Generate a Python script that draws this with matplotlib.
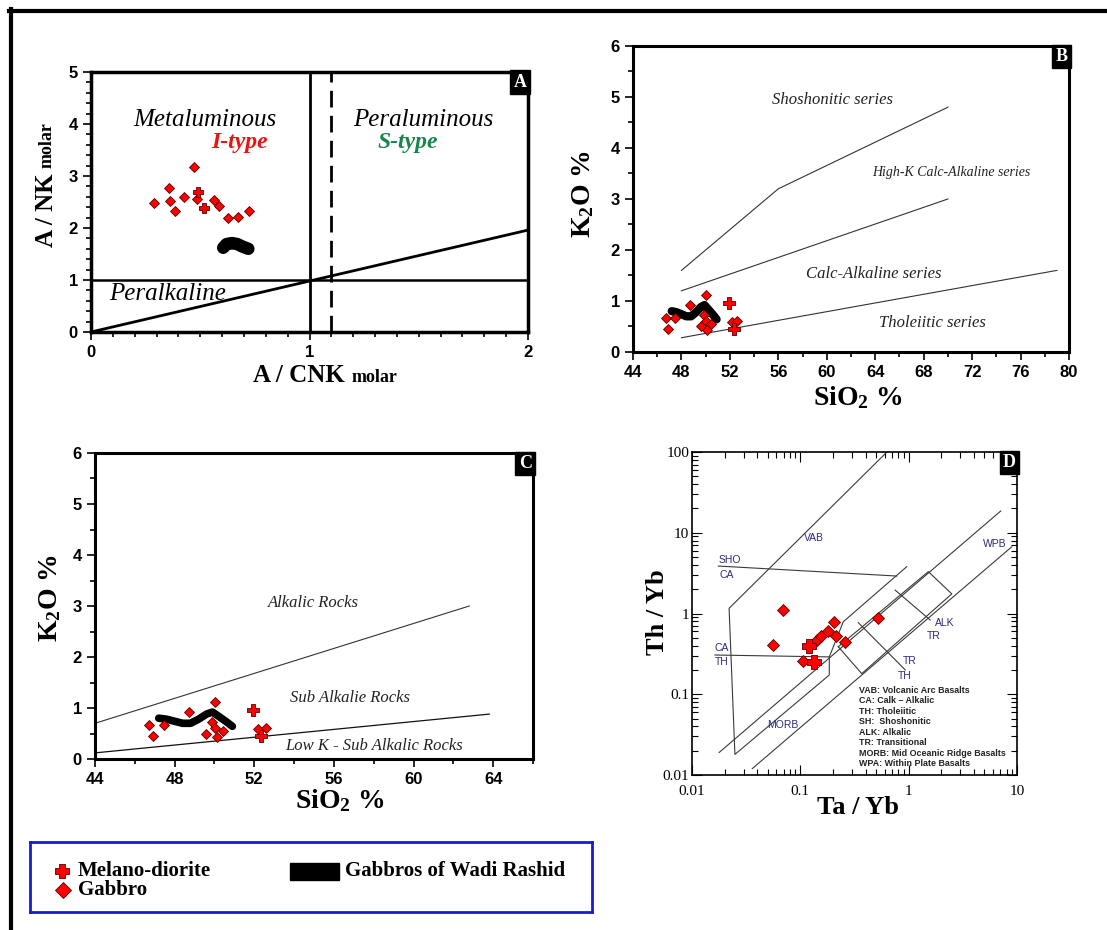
import matplotlib.pyplot as plt
from matplotlib.lines import Line2D
from matplotlib.path import Path
from matplotlib.patches import Rectangle
from matplotlib.ticker import MultipleLocator, LogLocator, FuncFormatter, NullFormatter

plt.rcParams['font.family'] = 'Liberation Sans'
plt.rcParams['mathtext.fontset'] = 'custom'
plt.rcParams['mathtext.rm'] = 'Liberation Serif:bold'
plt.rcParams['mathtext.bf'] = 'Liberation Serif:bold'
plt.rcParams['mathtext.it'] = 'Liberation Serif:bold'

SERIF = 'Liberation Serif'
RED = '#ff0000'
EDGE = '#5a0000'

# fat plus marker for the melano-diorite samples
w = 0.42
PLUS = Path([(-w, -1), (w, -1), (w, -w), (1, -w), (1, w), (w, w), (w, 1), (-w, 1),
             (-w, w), (-1, w), (-1, -w), (-w, -w), (-w, -1)], closed=True)

# ---- A : A/CNK vs A/NK (Shand) ----
acnk_gabbro = [0.473, 0.357, 0.288, 0.363, 0.386, 0.424, 0.484, 0.564, 0.587, 0.628, 0.674, 0.722]
ank_gabbro = [3.18, 2.775, 2.49, 2.52, 2.33, 2.59, 2.55, 2.54, 2.42, 2.20, 2.22, 2.32]
acnk_melano = [0.491, 0.519]
ank_melano = [2.70, 2.38]
acnk_rashid = [0.605, 0.62, 0.645, 0.67, 0.695, 0.72]
ank_rashid = [1.62, 1.69, 1.71, 1.69, 1.64, 1.60]

# ---- B / C : SiO2 vs K2O ----
sio2_gabbro = [50.03, 48.74, 46.69, 47.45, 46.90, 49.87, 49.58, 50.05, 50.45, 50.12, 52.20, 52.60]
k2o_gabbro = [1.11, 0.93, 0.67, 0.67, 0.45, 0.73, 0.50, 0.60, 0.54, 0.44, 0.58, 0.60]
sio2_melano = [51.95, 52.35]
k2o_melano = [0.97, 0.45]
sio2_rashid = [47.2, 47.6, 48.0, 48.4, 48.8, 49.2, 49.6, 49.9, 50.2, 50.6, 50.9]
k2o_rashid = [0.80, 0.78, 0.74, 0.70, 0.70, 0.78, 0.88, 0.92, 0.84, 0.73, 0.64]

# series boundaries (Peccerillo & Taylor)
sho_x, sho_y = [48, 56, 70], [1.6, 3.2, 4.8]
hk_x, hk_y = [48, 70], [1.2, 3.0]
ca_x, ca_y = [48, 79], [0.28, 1.6]
# alkalic / sub-alkalic / low-K
alk_x, alk_y = [44, 62.8], [0.7, 3.0]
lowk_x, lowk_y = [44, 63.8], [0.12, 0.88]

# ---- D : Ta/Yb vs Th/Yb (Pearce) ----
tayb_gabbro = [0.0687, 0.0556, 0.105, 0.1416, 0.154, 0.1815, 0.206, 0.212, 0.259, 0.525]
thyb_gabbro = [1.10, 0.407, 0.26, 0.47, 0.526, 0.61, 0.79, 0.526, 0.44, 0.887]
tayb_melano = [0.121, 0.1346]
thyb_melano = [0.40, 0.249]

vab_x = [0.63, 0.022, 0.0249, 0.185, 0.185, 0.249, 0.96]
vab_y = [100, 1.16, 0.018, 0.173, 0.29, 0.79, 3.8]
arr_up_x, arr_up_y = [0.0178, 7.08], [0.019, 18.6]
arr_lo_x, arr_lo_y = [0.036, 8.95], [0.012, 6.7]
shoca_x, shoca_y = [0.0175, 0.776], [3.87, 2.91]
cath_x, cath_y = [0.0163, 0.185], [0.306, 0.29]
box_x = [0.224, 1.52, 2.50, 0.369, 0.224]
box_y = [0.388, 3.30, 1.75, 0.18, 0.388]
alktr_x, alktr_y = [0.75, 1.58], [1.95, 0.83]
trth_x, trth_y = [0.343, 0.93], [0.77, 0.2]
d_notes = ['VAB: Volcanic Arc Basalts', 'CA: Calk \u2013 Alkalic', 'TH: Tholeiitic',
           'SH:  Shoshonitic', 'ALK: Alkalic', 'TR: Transitional',
           'MORB: Mid Oceanic Ridge Basalts', 'WPA: Within Plate Basalts']

W, H = 1107, 930
fig = plt.figure(figsize=(W / 100, H / 100), dpi=100)


def box(l, t, r, b):
    return [l / W, 1 - b / H, (r - l) / W, (b - t) / H]


def ftext(x, y, s, **kw):
    fig.text(x / W, 1 - y / H, s, **kw)


def tag(ax, s):
    ax.text(0.997, 0.994, s, transform=ax.transAxes, ha='right', va='top', color='white',
            fontsize=13, fontweight='bold', family=SERIF, zorder=10,
            bbox=dict(facecolor='black', edgecolor='black', boxstyle='square,pad=0.18'))


def style_lin(ax, lw=2):
    for sp in ax.spines.values():
        sp.set_linewidth(lw)
    ax.tick_params(which='both', direction='out', width=1.2, labelsize=12)
    ax.tick_params(which='major', length=6)
    ax.tick_params(which='minor', length=3.5)
    for lbl in ax.get_xticklabels() + ax.get_yticklabels():
        lbl.set_fontweight('bold')


def samples(ax, xg, yg, xm, ym, ms, msp):
    ax.plot(xg, yg, 'D', color=RED, mec=EDGE, mew=0.6, ms=ms, ls='none', zorder=5)
    ax.plot(xm, ym, marker=PLUS, color=RED, mec=EDGE, mew=0.6, ms=msp, ls='none', zorder=6)


# ---------- A ----------
axA = fig.add_axes(box(91, 72, 528, 332))
axA.plot([1, 1], [0, 5], color='k', lw=2)
axA.plot([1.1, 1.1], [0, 5], color='k', lw=2, ls=(0, (6, 3)))
axA.plot([0, 2], [1, 1], color='k', lw=1.8)
axA.plot([0, 2], [0, 1.96], color='k', lw=2)
axA.plot(acnk_rashid, ank_rashid, color='k', lw=9, solid_capstyle='round', solid_joinstyle='round')
samples(axA, acnk_gabbro, ank_gabbro, acnk_melano, ank_melano, 5, 7.5)
axA.text(0.52, 4.08, 'Metaluminous', family=SERIF, style='italic', fontsize=18, ha='center', va='center')
axA.text(0.68, 3.64, 'I-type', family=SERIF, style='italic', weight='bold', color='#ee1111',
         fontsize=17, ha='center', va='center')
axA.text(1.52, 4.08, 'Peraluminous', family=SERIF, style='italic', fontsize=18, ha='center', va='center')
axA.text(1.45, 3.64, 'S-type', family=SERIF, style='italic', weight='bold', color='#17864a',
         fontsize=17, ha='center', va='center')
axA.text(0.35, 0.73, 'Peralkaline', family=SERIF, style='italic', fontsize=18, ha='center', va='center')
axA.set_xlim(0, 2)
axA.set_ylim(0, 5)
axA.xaxis.set_major_locator(MultipleLocator(1))
axA.xaxis.set_minor_locator(MultipleLocator(0.1))
axA.yaxis.set_major_locator(MultipleLocator(1))
axA.yaxis.set_minor_locator(MultipleLocator(0.2))
style_lin(axA, 2.5)
tag(axA, 'A')
ftext(345, 382, 'A / CNK', family=SERIF, weight='bold', fontsize=18, ha='right', va='baseline')
ftext(352, 382, 'molar', family=SERIF, weight='bold', fontsize=13, ha='left', va='baseline')
ftext(58, 247, 'A / NK', family=SERIF, weight='bold', fontsize=18, ha='right', va='bottom', rotation=90)
ftext(56, 168, 'molar', family=SERIF, weight='bold', fontsize=13, ha='right', va='bottom', rotation=90)

# ---------- B ----------
axB = fig.add_axes(box(633, 46, 1069, 352))
for xs, ys in [(sho_x, sho_y), (hk_x, hk_y), (ca_x, ca_y)]:
    axB.plot(xs, ys, color='#333333', lw=0.8)
axB.plot(sio2_rashid, k2o_rashid, color='k', lw=6, solid_capstyle='round', solid_joinstyle='round')
samples(axB, sio2_gabbro, k2o_gabbro, sio2_melano, k2o_melano, 4.8, 8)
lab = dict(family=SERIF, style='italic', color='#222222', ha='center', va='center')
axB.text(60.5, 4.94, 'Shoshonitic series', fontsize=12, **lab)
axB.text(70.3, 3.52, 'High-K Calc-Alkaline series', fontsize=10, **lab)
axB.text(63.9, 1.52, 'Calc-Alkaline series', fontsize=12, **lab)
axB.text(68.7, 0.575, 'Tholeiitic series', fontsize=12, **lab)
axB.set_xlim(44, 80)
axB.set_ylim(0, 6)
axB.xaxis.set_major_locator(MultipleLocator(4))
axB.xaxis.set_minor_locator(MultipleLocator(2))
axB.yaxis.set_major_locator(MultipleLocator(1))
axB.yaxis.set_minor_locator(MultipleLocator(0.5))
style_lin(axB, 2.2)
tag(axB, 'B')
ftext(858, 405, r'SiO$_2$ %', family=SERIF, weight='bold', fontsize=20, ha='center', va='baseline')
ftext(583, 194, r'K$_2$O %', family=SERIF, weight='bold', fontsize=20, ha='center', va='center', rotation=90)

# ---------- C ----------
axC = fig.add_axes(box(95, 453, 533, 759))
axC.plot(alk_x, alk_y, color='#333333', lw=0.8)
axC.plot(lowk_x, lowk_y, color='#111111', lw=0.9)
axC.plot(sio2_rashid, k2o_rashid, color='k', lw=5.5, solid_capstyle='round', solid_joinstyle='round')
samples(axC, sio2_gabbro, k2o_gabbro, sio2_melano, k2o_melano, 4.8, 8)
axC.text(54.97, 3.06, 'Alkalic Rocks', fontsize=12, **lab)
axC.text(56.8, 1.19, 'Sub Alkalie Rocks', fontsize=12, **lab)
axC.text(58.0, 0.26, 'Low K - Sub Alkalic Rocks', fontsize=12, **lab)
axC.set_xlim(44, 66)
axC.set_ylim(0, 6)
axC.xaxis.set_major_locator(MultipleLocator(4))
axC.xaxis.set_minor_locator(MultipleLocator(2))
axC.yaxis.set_major_locator(MultipleLocator(1))
axC.yaxis.set_minor_locator(MultipleLocator(0.5))
style_lin(axC, 2.2)
tag(axC, 'C')
ftext(340, 808, r'SiO$_2$ %', family=SERIF, weight='bold', fontsize=20, ha='center', va='baseline')
ftext(50, 598, r'K$_2$O %', family=SERIF, weight='bold', fontsize=20, ha='center', va='center', rotation=90)

# ---------- D ----------
axD = fig.add_axes(box(692, 452, 1017, 775))
axD.set_xscale('log')
axD.set_yscale('log')
for xs, ys in [(vab_x, vab_y), (arr_up_x, arr_up_y), (arr_lo_x, arr_lo_y), (shoca_x, shoca_y),
               (cath_x, cath_y), (box_x, box_y), (alktr_x, alktr_y), (trth_x, trth_y)]:
    axD.plot(xs, ys, color='#3a3a3a', lw=0.8)
samples(axD, tayb_gabbro, thyb_gabbro, tayb_melano, thyb_melano, 6, 9.5)
navy = dict(color='#2b2b80', fontsize=7.5, ha='center', va='center')
axD.text(0.134, 8.5, 'VAB', **navy)
axD.text(0.0224, 4.6, 'SHO', **navy)
axD.text(0.021, 3.0, 'CA', **navy)
axD.text(0.0188, 0.37, 'CA', **navy)
axD.text(0.0188, 0.249, 'TH', **navy)
axD.text(2.17, 0.77, 'ALK', **navy)
axD.text(1.71, 0.52, 'TR', **navy)
axD.text(1.03, 0.26, 'TR', **navy)
axD.text(0.91, 0.17, 'TH', **navy)
axD.text(6.28, 7.2, 'WPB', **navy)
axD.text(0.0687, 0.042, 'MORB', **navy)
for i, s in enumerate(d_notes):
    axD.text(0.515, 0.263 - i * 0.0325, s, transform=axD.transAxes, fontsize=6.4, weight='bold',
             color='#222222', va='center', ha='left')
axD.set_xlim(0.01, 10)
axD.set_ylim(0.01, 100)
plain = FuncFormatter(lambda v, p: f'{v:g}')
for a in (axD.xaxis, axD.yaxis):
    a.set_major_locator(LogLocator(base=10, numticks=10))
    a.set_minor_locator(LogLocator(base=10, subs=range(2, 10), numticks=10))
    a.set_major_formatter(plain)
    a.set_minor_formatter(NullFormatter())
axD.tick_params(which='both', direction='in', top=True, right=True, width=0.8, labelsize=11)
axD.tick_params(which='major', length=7)
axD.tick_params(which='minor', length=4)
axD.tick_params(axis='x', pad=7)
axD.tick_params(axis='y', pad=2)
for sp in axD.spines.values():
    sp.set_linewidth(1.2)
for lbl in axD.get_xticklabels() + axD.get_yticklabels():
    lbl.set_family(SERIF)
tag(axD, 'D')
ftext(858, 814, 'Ta / Yb', family=SERIF, weight='bold', fontsize=19, ha='center', va='baseline')
ftext(657, 612, 'Th / Yb', family=SERIF, weight='bold', fontsize=19, ha='center', va='center', rotation=90)

# ---------- legend ----------
axL = fig.add_axes(box(30, 842, 592, 912))
axL.set_xlim(0, 562)
axL.set_ylim(70, 0)
axL.set_xticks([])
axL.set_yticks([])
for sp in axL.spines.values():
    sp.set_color('#1a1ad6')
    sp.set_linewidth(2)
axL.plot([32], [29], marker=PLUS, color=RED, mec=EDGE, mew=0.6, ms=10)
axL.plot([33], [48], 'D', color=RED, mec=EDGE, mew=0.6, ms=8)
axL.text(48, 29, 'Melano-diorite', family=SERIF, weight='bold', fontsize=15, va='center')
axL.text(48, 48, 'Gabbro', family=SERIF, weight='bold', fontsize=15, va='center')
axL.add_patch(Rectangle((260, 20.5), 49, 17.5, color='black'))
axL.text(315, 29, 'Gabbros of Wadi Rashid', family=SERIF, weight='bold', fontsize=15, va='center')

# frame lines on top and left
fig.add_artist(Line2D([9 / W, 1], [1 - 11 / H] * 2, transform=fig.transFigure, color='k', lw=3))
fig.add_artist(Line2D([11 / W] * 2, [0, 1 - 9 / H], transform=fig.transFigure, color='k', lw=3))

fig.savefig('out.png', dpi=100)
